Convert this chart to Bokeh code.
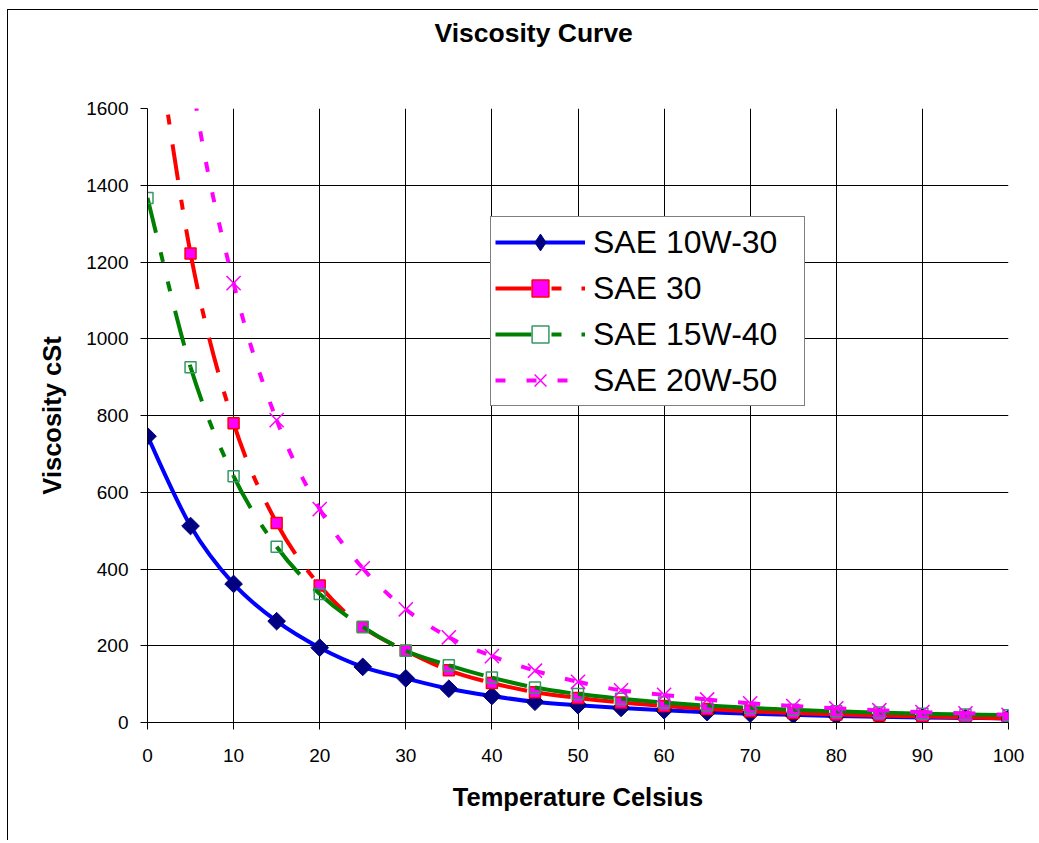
import math
from bokeh.plotting import figure
from bokeh.models import Range1d, SingleIntervalTicker, FixedTicker, Legend, LegendItem, LinearAxis
from bokeh.embed import file_html
from bokeh.resources import INLINE

# ---- data ----
temps = [0, 5, 10, 15, 20, 25, 30, 35, 40, 45, 50, 55, 60, 65, 70, 75, 80, 85, 90, 95, 100]
sae_10w30 = [746, 512, 361, 264, 195, 145, 115, 88, 69, 54, 45, 38, 32, 27, 23, 20, 17, 15, 13, 12, 10.5]
sae_30 = [1950, 1222, 780, 520, 357, 249, 187, 136, 103, 79, 64, 52, 43, 35, 29, 25, 21, 18, 16, 13, 11]
sae_15w40 = [1367, 926, 642, 458, 335, 249, 187, 149, 117, 91, 74, 62, 52, 44, 38, 33, 29, 26, 23, 21, 19]
sae_20w50 = [2700, 1700, 1145, 788, 556, 402, 295, 222, 173, 135, 106, 84, 72, 60, 50, 43, 37, 32, 27, 24, 20]
series_names = ["SAE 10W-30", "SAE 30", "SAE 15W-40", "SAE 20W-50"]
x_ticks_step = 10
y_ticks_step = 200

FONT = "Liberation Sans"


def smooth_segments(xs, ys):
    """Bezier control points for a smoothed line through the data points."""
    n = len(xs)
    seg = dict(x0=[], y0=[], x1=[], y1=[], cx0=[], cy0=[], cx1=[], cy1=[])
    for i in range(n - 1):
        xm, ym = (xs[i - 1], ys[i - 1]) if i > 0 else (xs[i], ys[i])
        xp, yp = (xs[i + 2], ys[i + 2]) if i + 2 < n else (xs[i + 1], ys[i + 1])
        seg["x0"].append(xs[i]); seg["y0"].append(ys[i])
        seg["x1"].append(xs[i + 1]); seg["y1"].append(ys[i + 1])
        seg["cx0"].append(xs[i] + (xs[i + 1] - xm) / 6.0)
        seg["cy0"].append(ys[i] + (ys[i + 1] - ym) / 6.0)
        seg["cx1"].append(xs[i + 1] - (xp - xs[i]) / 6.0)
        seg["cy1"].append(ys[i + 1] - (yp - ys[i]) / 6.0)
    return seg


p = figure(
    frame_width=861, frame_height=614,
    min_border_left=139, min_border_right=30, min_border_top=98, min_border_bottom=118,
    x_range=Range1d(0, 100), y_range=Range1d(0, 1600),
    output_backend="svg", toolbar_location=None, title="Viscosity Curve",
)
p.styles = {"margin-left": "7px", "margin-top": "9px",
            "border-left": "1px solid #000000", "border-top": "1px solid #000000"}
p.background_fill_color = "white"
p.border_fill_color = "white"
p.outline_line_color = None

p.title.text_font = FONT
p.title.text_font_size = "26.5px"
p.title.text_font_style = "bold"
p.title.text_color = "black"
p.title.align = "left"
p.title.offset = 287

xax = p.below[0]
yax = p.left[0]

# blank spacer between the title and the plot area (invisible tick, empty label)
spacer = LinearAxis(ticker=FixedTicker(ticks=[50]), major_label_overrides={50: ""},
                    axis_line_color=None, major_tick_line_color=None, minor_tick_line_color=None,
                    major_tick_in=0, major_tick_out=56, minor_tick_out=0,
                    major_label_standoff=0, axis_label_standoff=0)
p.add_layout(spacer, "above")

xax.ticker = SingleIntervalTicker(interval=x_ticks_step, num_minor_ticks=0)
yax.ticker = SingleIntervalTicker(interval=y_ticks_step, num_minor_ticks=0)
for ax in (xax, yax):
    ax.major_label_text_font = FONT
    ax.major_label_text_font_size = "19px"
    ax.major_label_text_color = "black"
    ax.axis_label_text_font = FONT
    ax.axis_label_text_font_size = "25.5px"
    ax.axis_label_text_font_style = "bold"
    ax.axis_label_text_color = "black"
    ax.axis_line_color = "black"
    ax.major_tick_line_color = "black"
    ax.major_tick_in = 0
    ax.major_tick_out = 7
    ax.minor_tick_line_color = None
xax.axis_label = "Temperature Celsius"
yax.axis_label = "Viscosity cSt"
xax.major_label_standoff = 19
yax.major_label_standoff = 12
xax.axis_label_standoff = 18
yax.axis_label_standoff = 17

p.xgrid.ticker = xax.ticker
p.ygrid.ticker = yax.ticker
for g in (p.xgrid, p.ygrid):
    g.grid_line_color = "black"
    g.grid_line_width = 1
    g.grid_line_alpha = 1.0

items = []

# SAE 10W-30 : solid blue, navy diamonds
s = smooth_segments(temps, sae_10w30)
l1 = p.bezier(source=s, x0="x0", y0="y0", x1="x1", y1="y1", cx0="cx0", cy0="cy0", cx1="cx1", cy1="cy1",
              line_color="#0000FF", line_width=4)
m1 = p.scatter(temps, sae_10w30, marker="square", angle=math.pi / 4, size=12.5,
               fill_color="#000080", line_color="#000080", line_width=1)
# diamond used for the legend swatch (legend swatches ignore marker angle)
m1_key = p.scatter(temps, sae_10w30, marker="diamond", size=20,
                   fill_color="#000080", line_color="#000080", line_width=1, visible=False)
items.append(LegendItem(label=series_names[0], renderers=[l1, m1_key]))

# SAE 30 : red long-dash-dot, magenta squares with red edge
s = smooth_segments(temps, sae_30)
l2 = p.bezier(source=s, x0="x0", y0="y0", x1="x1", y1="y1", cx0="cx0", cy0="cy0", cx1="cx1", cy1="cy1",
              line_color="#FF0000", line_width=4, line_dash="36 20 10 20")
m2 = p.scatter(temps, sae_30, marker="square", size=11,
               fill_color="#FF00FF", line_color="#FF0000", line_width=1.5)
items.append(LegendItem(label=series_names[1], renderers=[l2, m2]))

# SAE 15W-40 : green long-dash-dot-dot, open sea-green squares
s = smooth_segments(temps, sae_15w40)
l3 = p.bezier(source=s, x0="x0", y0="y0", x1="x1", y1="y1", cx0="cx0", cy0="cy0", cx1="cx1", cy1="cy1",
              line_color="#008000", line_width=4, line_dash="36 20 10 20 10 20")
m3 = p.scatter(temps, sae_15w40, marker="square", size=11,
               fill_color=None, line_color="#339966", line_width=1.5)
items.append(LegendItem(label=series_names[2], renderers=[l3, m3]))

# SAE 20W-50 : magenta dotted, magenta x markers
s = smooth_segments(temps, sae_20w50)
l4 = p.bezier(source=s, x0="x0", y0="y0", x1="x1", y1="y1", cx0="cx0", cy0="cy0", cx1="cx1", cy1="cy1",
              line_color="#FF00FF", line_width=4, line_dash="10 21")
m4 = p.scatter(temps, sae_20w50, marker="x", size=20,
               line_color="#FF00FF", line_width=1.5)
items.append(LegendItem(label=series_names[3], renderers=[l4, m4]))

legend = Legend(items=items, location=(343, 316))
legend.margin = 0
legend.padding = 4
legend.spacing = 4
legend.label_height = 42
legend.glyph_height = 42
legend.glyph_width = 90
legend.label_standoff = 8
legend.label_width = 207
legend.label_text_font = FONT
legend.label_text_font_size = "32px"
legend.label_text_color = "black"
legend.border_line_color = "black"
legend.border_line_width = 1
legend.background_fill_color = "white"
legend.background_fill_alpha = 1.0
p.add_layout(legend)

open("out.html", "w").write(file_html(p, INLINE))
